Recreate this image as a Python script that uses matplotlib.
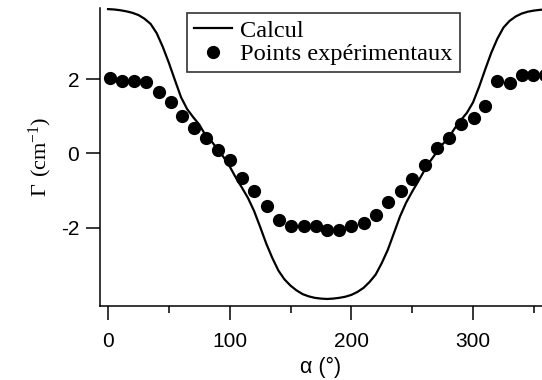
import matplotlib
matplotlib.use("Agg")
import matplotlib.pyplot as plt

# Calcul (courbe)
alpha_calc = [0, 5, 10, 15, 20, 25, 30, 35, 40, 45, 50, 55, 60, 65, 70, 75, 80, 85, 90,
              95, 100, 105, 110, 115, 120, 125, 130, 135, 140, 145, 150, 155, 160, 165, 170,
              175, 180, 185, 190, 195, 200, 205, 210, 215, 220, 225, 230, 235, 240, 245,
              250, 255, 260, 265, 270, 275, 280, 285, 290, 295, 300, 305, 310, 315, 320,
              325, 330, 335, 340, 345, 350, 355, 360]
gamma_calc = [3.90, 3.89, 3.87, 3.84, 3.80, 3.74, 3.64, 3.50, 3.25, 2.88, 2.45, 1.98, 1.52,
              1.20, 0.98, 0.78, 0.50, 0.33, 0.12, -0.10, -0.35, -0.65, -0.92, -1.20, -1.55,
              -1.98, -2.43, -2.82, -3.16, -3.40, -3.57, -3.70, -3.80, -3.86, -3.90, -3.92,
              -3.93, -3.92, -3.90, -3.87, -3.82, -3.74, -3.63, -3.47, -3.27, -2.96, -2.60,
              -2.15, -1.70, -1.33, -1.03, -0.75, -0.46, -0.20, 0.03, 0.25, 0.43, 0.68, 0.90,
              1.10, 1.38, 1.80, 2.27, 2.72, 3.10, 3.40, 3.58, 3.70, 3.78, 3.83, 3.86, 3.88,
              3.89]

# Points expérimentaux
alpha_exp = [1.5, 11.5, 21.5, 31.5, 41.5, 51.5, 61, 71, 80.5, 90, 100, 110, 120, 130.5,
             140.5, 150.5, 161, 171, 180, 189.5, 200, 210, 220, 230.5, 240.5, 250, 260.5,
             270.5, 280.5, 290.5, 300.5, 310, 319.5, 330, 340, 349.5, 359]
gamma_exp = [2.03, 1.97, 1.96, 1.92, 1.65, 1.40, 1.00, 0.70, 0.42, 0.10, -0.18, -0.65,
             -1.00, -1.41, -1.80, -1.96, -1.96, -1.95, -2.08, -2.07, -1.96, -1.89, -1.66,
             -1.30, -1.00, -0.70, -0.30, 0.15, 0.41, 0.80, 0.96, 1.28, 1.95, 1.90, 2.13,
             2.13, 2.12]

plt.rcParams['mathtext.fontset'] = 'custom'
plt.rcParams['mathtext.rm'] = 'Liberation Serif'
plt.rcParams['axes.unicode_minus'] = False

fig = plt.figure(figsize=(5.42, 3.80), dpi=100)
ax = fig.add_axes([100 / 542, 1 - 306 / 380, 1 - 100 / 542, 298 / 380])

ax.plot(alpha_calc, gamma_calc, color='black', lw=1.6, label='Calcul')
ax.plot(alpha_exp, gamma_exp, 'o', color='black', ms=8.5, label='Points expérimentaux')

ax.set_xlim(-6.6, 356.7)
ax.set_ylim(-4.12, 3.93)

ax.spines['top'].set_visible(False)
ax.spines['right'].set_visible(False)
for s in ['left', 'bottom']:
    ax.spines[s].set_linewidth(1.1)

ax.set_xticks([0, 100, 200, 300])
ax.set_xticks([50, 150, 250, 350], minor=True)
ax.set_yticks([-2, 0, 2])
ax.tick_params(axis='both', which='major', length=10, width=1.1, direction='out',
               labelsize=15)
ax.tick_params(axis='x', which='major', pad=9)
ax.tick_params(axis='y', which='major', pad=5)
ax.tick_params(axis='x', which='minor', length=5, width=1.1)
for lab in ax.get_xticklabels() + ax.get_yticklabels():
    lab.set_family('Liberation Sans')

ax.set_xlabel('α (°)', family='Liberation Sans', fontsize=15.5, labelpad=4)
ax.set_ylabel(r'$\mathrm{\Gamma\ (cm^{-1})}$', fontsize=16, labelpad=5)

leg = ax.legend(loc='upper left', bbox_to_anchor=(187 / 542, 1 - 13 / 380),
                bbox_transform=fig.transFigure, borderaxespad=0,
                prop={'family': 'Liberation Serif', 'size': 17.6},
                frameon=True, fancybox=False, handlelength=1.55, handletextpad=0.35,
                borderpad=0.28, labelspacing=0.05, markerscale=1.0)
leg.get_frame().set_edgecolor('black')
leg.get_frame().set_linewidth(1.2)

fig.savefig('out.png', dpi=100)
